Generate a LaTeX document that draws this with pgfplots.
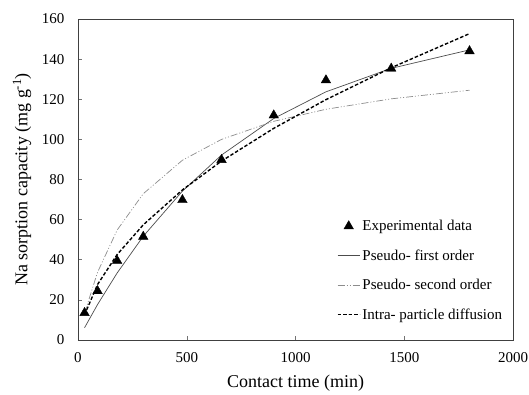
\documentclass[border=0pt]{standalone}
\usepackage{fontspec}
\setmainfont{Liberation Serif}
\usepackage{pgfplots}
\pgfplotsset{compat=1.18}
\begin{document}
\begin{tikzpicture}[x=1pt,y=1pt]
\path[use as bounding box] (-78,-55) rectangle (451,340);
\begin{axis}[
  at={(0,0)}, anchor=south west,
  scale only axis, width=435pt, height=321pt,
  xmin=0, xmax=2000, ymin=0, ymax=160,
  xtick={0,500,1000,1500,2000}, ytick={0,20,...,160},
  tick align=inside, xtick pos=left, ytick pos=left,
  major tick length=4pt,
  tick style={black!55, line width=0.5pt},
  axis line style={black!75, line width=0.7pt},
  ticklabel style={font=\fontsize{15}{18}\selectfont},
  xticklabel style={yshift=-9pt},
  yticklabel style={xshift=-10pt},
  /pgf/number format/assume math mode=true,
  /pgf/number format/1000 sep={},
  xlabel={Contact time (min)},
  ylabel={Na sorption capacity (mg g\textsuperscript{-1})},
  every axis x label/.style={at={(axis description cs:0.5,0)}, yshift=-43pt, anchor=center, font=\fontsize{18}{21}\selectfont},
  every axis y label/.style={at={(axis description cs:0,0.5)}, xshift=-56pt, rotate=90, anchor=center, font=\fontsize{18}{21}\selectfont},
  legend image code/.code={\draw[mark repeat=2,mark phase=2,#1] plot coordinates {(0pt,0pt) (11pt,0pt) (22pt,0pt)};},
  legend cell align=left,
  legend style={at={(axis description cs:0.595,0.38)}, anchor=north west, draw=none, fill=none,
    font=\fontsize{15}{18}\selectfont, row sep=13.5pt, inner sep=0pt},
]
\addplot[only marks, mark=triangle*, mark size=5.5pt, black] coordinates {
(30,13.5) (90,24.4) (180,39.5) (300,51.5) (480,69.8) (660,89.8) (900,112) (1140,129.5) (1440,135.3) (1800,144)};
\addlegendentry{Experimental data}
\addplot[black!70, line width=0.7pt, mark=none] coordinates {
(30,6.1) (90,17.7) (180,33.4) (300,51.7) (480,74.2) (660,92.2) (900,110.4) (1140,123.7) (1440,135.4) (1800,144.6)};
\addlegendentry{Pseudo- first order}
\addplot[black!45, line width=0.7pt, mark=none, dash pattern=on 7pt off 2pt on 1pt off 2pt on 1pt off 2pt] coordinates {
(30,13.3) (90,33.8) (180,54.8) (300,72.9) (480,89.6) (660,100) (900,109) (1140,115) (1440,120.2) (1800,124.5)};
\addlegendentry{Pseudo- second order}
\addplot[black, line width=1.4pt, mark=none, dash pattern=on 3.5pt off 2pt] coordinates {
(30,12.5) (90,27.7) (180,42.6) (300,57.4) (480,74.8) (660,89.2) (900,105.5) (1140,119.8) (1440,135.7) (1800,152.7)};
\addlegendentry{Intra- particle diffusion}
\end{axis}
\end{tikzpicture}
\end{document}
